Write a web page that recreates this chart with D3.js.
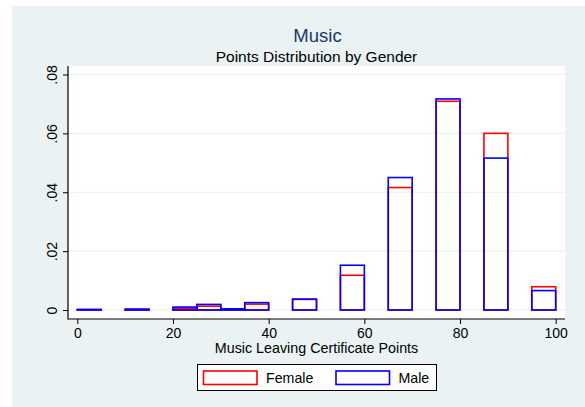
<!DOCTYPE html>
<html>
<head>
<meta charset="utf-8">
<script src="https://cdn.jsdelivr.net/npm/d3@7/dist/d3.min.js"></script>
<style>
  html, body { margin: 0; padding: 0; background: #ffffff; }
  svg { display: block; font-family: "Liberation Sans", Arial, Helvetica, sans-serif; }
</style>
</head>
<body>
<svg id="chart" width="585" height="407"></svg>
<script>
// ---- data ----
const binStart = [0, 10, 20, 25, 30, 35, 45, 55, 65, 75, 85, 95];
const binWidth = 5;
const femaleDensity = [0.0001, 0.0002, 0.0006, 0.0013, 0.0003, 0.0020, 0.0036, 0.0118, 0.0416, 0.0709, 0.0600, 0.0079];
const maleDensity   = [0.0002, 0.0003, 0.0010, 0.0019, 0.0004, 0.0025, 0.0037, 0.0152, 0.0450, 0.0717, 0.0516, 0.0066];
const xTicks = [0, 20, 40, 60, 80, 100];
const yTicks = [0, 0.02, 0.04, 0.06, 0.08];
const yTickLabels = ["0", ".02", ".04", ".06", ".08"];
const seriesNames = ["Female", "Male"];
const seriesColors = ["#ff0000", "#0000ff"];

const svg = d3.select("#chart");

// graph region background
svg.append("rect").attr("x", 12).attr("y", 6).attr("width", 573).attr("height", 401)
  .attr("fill", "#eaf2f3");

// plot region
const plot = { left: 68, right: 565, top: 66, bottom: 319 };
svg.append("rect").attr("x", plot.left).attr("y", plot.top)
  .attr("width", plot.right - plot.left).attr("height", plot.bottom - plot.top)
  .attr("fill", "#ffffff");

const x = d3.scaleLinear().domain([0, 100]).range([77.3, 555.7]);
const y = d3.scaleLinear().domain([0, 0.08]).range([310, 74.5]);

// gridlines
svg.append("g").selectAll("line").data(yTicks).join("line")
  .attr("x1", plot.left).attr("x2", plot.right)
  .attr("y1", d => y(d)).attr("y2", d => y(d))
  .attr("stroke", "#eaf2f3").attr("stroke-width", 1.2);

// bars
const bars = svg.append("g");
[femaleDensity, maleDensity].forEach((vals, si) => {
  bars.append("g").selectAll("rect").data(binStart).join("rect")
    .attr("x", d => x(d))
    .attr("width", d => x(d + binWidth) - x(d))
    .attr("y", (d, i) => y(vals[i]))
    .attr("height", (d, i) => y(0) - y(vals[i]))
    .attr("fill", "none")
    .attr("stroke", seriesColors[si])
    .attr("stroke-width", 1.6);
});

// axes
const xAxis = d3.axisBottom(x).tickValues(xTicks).tickSize(5).tickSizeOuter(0).tickPadding(4)
  .tickFormat(d3.format("d"));
const gx = svg.append("g").attr("transform", `translate(0,${plot.bottom})`).call(xAxis);
gx.select(".domain").remove();
gx.selectAll(".tick line").attr("stroke", "#000");
gx.selectAll(".tick text").attr("font-size", 14).attr("fill", "#000")
  .attr("font-family", "Liberation Sans, Arial, sans-serif").attr("dy", "0.71em");

const yAxis = d3.axisLeft(y).tickValues(yTicks).tickSize(5).tickSizeOuter(0)
  .tickFormat((d, i) => yTickLabels[i]);
const gy = svg.append("g").attr("transform", `translate(${plot.left},0)`).call(yAxis);
gy.select(".domain").remove();
gy.selectAll(".tick line").attr("stroke", "#000");
gy.selectAll(".tick text")
  .attr("x", null).attr("dy", null)
  .attr("text-anchor", "middle")
  .attr("transform", "translate(-11.5,0) rotate(-90)")
  .attr("font-size", 14).attr("fill", "#000")
  .attr("font-family", "Liberation Sans, Arial, sans-serif");

// axis lines
svg.append("line").attr("x1", plot.left).attr("x2", plot.left)
  .attr("y1", plot.top).attr("y2", plot.bottom + 0.5).attr("stroke", "#000").attr("stroke-width", 1.2);
svg.append("line").attr("x1", plot.left).attr("x2", plot.right)
  .attr("y1", plot.bottom).attr("y2", plot.bottom).attr("stroke", "#000").attr("stroke-width", 1.2);

// titles
const cx = (plot.left + plot.right) / 2;
svg.append("text").attr("x", cx + 1).attr("y", 42).attr("text-anchor", "middle")
  .attr("font-size", 18.5).attr("fill", "#1a3a6a").text("Music");
svg.append("text").attr("x", cx).attr("y", 62).attr("text-anchor", "middle")
  .attr("font-size", 15.5).attr("fill", "#000").text("Points Distribution by Gender");
svg.append("text").attr("x", cx).attr("y", 353).attr("text-anchor", "middle")
  .attr("font-size", 14.3).attr("fill", "#000").text("Music Leaving Certificate Points");

// legend
const lg = svg.append("g");
lg.append("rect").attr("x", 197.5).attr("y", 364.5).attr("width", 239).attr("height", 26)
  .attr("fill", "#fff").attr("stroke", "#000").attr("stroke-width", 1);
const keyX = [203.5, 336];
const labelX = [266, 398.5];
seriesNames.forEach((name, i) => {
  lg.append("rect").attr("x", keyX[i]).attr("y", 371).attr("width", 53.5).attr("height", 13.5)
    .attr("fill", "#fff").attr("stroke", seriesColors[i]).attr("stroke-width", 1.6);
  lg.append("text").attr("x", labelX[i]).attr("y", 383).attr("font-size", 14.2)
    .attr("fill", "#000").text(name);
});
</script>
</body>
</html>
